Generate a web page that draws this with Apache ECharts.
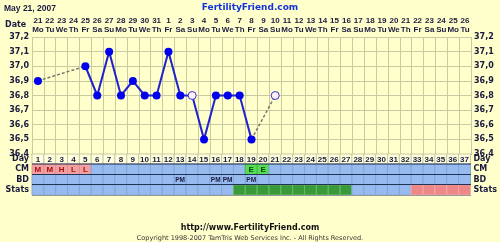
<!DOCTYPE html>
<html><head><meta charset="utf-8">
<script src="https://cdn.jsdelivr.net/npm/echarts@6/dist/echarts.min.js"></script>
<style>html,body{margin:0;padding:0;background:#FFFFCC;}#c{width:500px;height:242px;}</style>
</head><body><div id="c"></div>
<script>
const dayNumbers = ['1','2','3','4','5','6','7','8','9','10','11','12','13','14','15','16','17','18','19','20','21','22','23','24','25','26','27','28','29','30','31','32','33','34','35','36','37'];
const dates = ['21','22','23','24','25','26','27','28','29','30','31','1','2','3','4','5','6','7','8','9','10','11','12','13','14','15','16','17','18','19','20','21','22','23','24','25','26'];
const weekdays = ['Mo','Tu','We','Th','Fr','Sa','Su','Mo','Tu','We','Th','Fr','Sa','Su','Mo','Tu','We','Th','Fr','Sa','Su','Mo','Tu','We','Th','Fr','Sa','Su','Mo','Tu','We','Th','Fr','Sa','Su','Mo','Tu'];
const temps = [36.9,null,null,null,37.0,36.8,37.1,36.8,36.9,36.8,36.8,37.1,36.8,36.8,36.5,36.8,36.8,36.8,36.5,null,36.8,null,null,null,null,null,null,null,null,null,null,null,null,null,null,null,null];
const openDays = [14,21];
const rowNames = ['Day','CM','BD','Stats'];
const cm = ['M','M','H','L','L','','','','','','','','','','','','','','E','E','','','','','','','','','','','','','','','','',''];
const bd = ['','','','','','','','','','','','','PM','','','PM','PM','','PM','','','','','','','','','','','','','','','','','',''];
const stats = ['','','','','','','','','','','','','','','','','','G','G','G','G','G','G','G','G','G','G','','','','','','R','R','R','R','R'];

const FONT = 'DejaVu Sans';
const NFONT = 'Liberation Sans';
const TXT = '#1a1a40';
const fmt = v => (Math.round(v*10)/10).toFixed(1).replace('.', ',');

const dashed = [];
let prev = -1;
temps.forEach((t,i)=>{ if(t!=null){ if(prev>=0 && i-prev>1){ const d = temps.map(()=>null); d[prev]=temps[prev]; d[i]=t; dashed.push(d);} prev=i; } });

const mainData = temps.map((t,i)=>{
  if(t==null) return null;
  if(openDays.indexOf(i+1)>=0) return {value:t, itemStyle:{color:'#FFF0FF', borderColor:'#3333CC', borderWidth:1}};
  return t;
});

const cells = [];
for(let r=0;r<4;r++) for(let i=0;i<dayNumbers.length;i++) cells.push([i,r]);

function renderCell(params, api){
  const i = api.value(0), r = api.value(1);
  const c = api.coord([i, r]);
  const s = api.size([1,1]);
  const x = c[0]-s[0]/2, y = c[1]-s[1]/2, w = s[0], h = s[1];
  let fill = '#97BBEE', stroke = '#82A6DC', text = '', tcol = TXT, fs = 8;
  if(r===0){ fill = '#FFFFDD'; stroke = '#C9C9A2'; text = dayNumbers[i]; }
  else if(r===1){ const v = cm[i]; if(v==='E'){ fill='#55DD55'; stroke='#44BB44'; text=v; tcol='#114411'; } else if(v){ fill='#F0A0A0'; stroke='#E09090'; text=v; tcol='#AA1111'; } }
  else if(r===2){ text = bd[i]; fs = 6.5; }
  else if(r===3){ const v = stats[i]; if(v==='G'){ fill='#3A9A3A'; stroke='#66BB66'; } else if(v==='R'){ fill='#EE8888'; stroke='#F0A8A8'; } }
  const children = [{type:'rect', shape:{x:x, y:y, width:w, height:h}, style:{fill:fill, stroke:stroke, lineWidth:1}}];
  if(text) children.push({type:'text', style:{text:text, x:c[0], y:c[1]+0.5, align:'center', verticalAlign:'middle', fill:tcol, font:'bold '+fs+'px "'+NFONT+'"'}});
  return {type:'group', children:children};
}

const series = [
  {type:'custom', xAxisIndex:2, yAxisIndex:2, data:cells, renderItem:renderCell, silent:true, z:1},
];
dashed.forEach(d=>series.push({type:'line', xAxisIndex:0, yAxisIndex:0, data:d, connectNulls:true, showSymbol:false, lineStyle:{color:'#777777', width:1.5, type:[3,2]}, z:2, animation:false}));
series.push({type:'line', xAxisIndex:0, yAxisIndex:0, data:mainData, connectNulls:false, showAllSymbol:true, symbol:'circle', symbolSize:8,
  itemStyle:{color:'#0000EE'}, lineStyle:{color:'#2222CC', width:2}, z:3, animation:false});

const rowLabel = {interval:0, margin:3, fontFamily:FONT, fontWeight:'bold', fontSize:8, color:TXT};
const chart = echarts.init(document.getElementById('c'), null, {renderer:'canvas'});
chart.setOption({
  animation:false,
  backgroundColor:'#FFFFCC',
  grid:[
    {left:32, right:29, top:37, height:117, show:true, backgroundColor:'#FFFFCC', borderWidth:0},
    {left:32, right:29, top:154, height:41, show:false}
  ],
  xAxis:[
    {type:'category', gridIndex:0, data:dayNumbers, boundaryGap:true, axisLabel:{show:false}, axisTick:{show:false}, axisLine:{show:true, lineStyle:{color:'#223355', width:1}},
     splitLine:{show:true, interval:0, lineStyle:{color:'#C9C9A2', width:1}}},
    {type:'category', gridIndex:0, position:'top', data:dates.map((d,i)=>d+'\n'+weekdays[i]), boundaryGap:true, axisLine:{show:false}, axisTick:{show:false},
     axisLabel:{interval:0, margin:3, fontFamily:NFONT, fontWeight:'bold', fontSize:8, color:TXT, lineHeight:9}},
    {type:'category', gridIndex:1, data:dayNumbers, boundaryGap:true, axisLabel:{show:false}, axisTick:{show:false}, axisLine:{show:false}}
  ],
  yAxis:[
    {type:'value', gridIndex:0, min:36.4, max:37.2, interval:0.1, position:'left', axisLine:{show:false}, axisTick:{show:false},
     splitLine:{show:true, lineStyle:{color:'#C9C9A2', width:1}},
     axisLabel:{formatter:fmt, margin:3, fontFamily:FONT, fontWeight:'bold', fontSize:8, color:TXT}},
    {type:'value', gridIndex:0, min:36.4, max:37.2, interval:0.1, position:'right', axisLine:{show:false}, axisTick:{show:false}, splitLine:{show:false},
     axisLabel:{formatter:fmt, margin:3, fontFamily:FONT, fontWeight:'bold', fontSize:8, color:TXT}},
    {type:'category', gridIndex:1, data:rowNames, inverse:true, position:'left', axisLine:{show:false}, axisTick:{show:false}, axisLabel:rowLabel},
    {type:'category', gridIndex:1, data:rowNames, inverse:true, position:'right', axisLine:{show:false}, axisTick:{show:false}, axisLabel:rowLabel}
  ],
  series:series,
  graphic:[
    {type:'text', left:4, top:4, style:{text:'May 21, 2007', font:'bold 8.5px "'+NFONT+'"', fill:TXT}},
    {type:'text', left:'center', top:3, style:{text:'FertilityFriend.com', font:'bold 9px "'+FONT+'"', fill:'#1133DD'}},
    {type:'text', left:5, top:21, style:{text:'Date', font:'bold 8px "'+FONT+'"', fill:TXT}},
    {type:'line', shape:{x1:32, y1:164, x2:471, y2:164}, style:{stroke:'#223355', lineWidth:1}, z:10},
    {type:'line', shape:{x1:32, y1:174.5, x2:471, y2:174.5}, style:{stroke:'#223355', lineWidth:1}, z:10},
    {type:'line', shape:{x1:32, y1:184.5, x2:471, y2:184.5}, style:{stroke:'#223355', lineWidth:1}, z:10},
    {type:'line', shape:{x1:32, y1:195.5, x2:471, y2:195.5}, style:{stroke:'#999999', lineWidth:1}, z:10},
    {type:'text', left:'center', top:224, style:{text:'http://www.FertilityFriend.com', font:'bold 8px "'+FONT+'"', fill:'#111111'}},
    {type:'text', left:'center', top:235, style:{text:'Copyright 1998-2007 TamTris Web Services Inc. - All Rights Reserved.', font:'6.5px "'+FONT+'"', fill:'#333333'}}
  ]
});
</script></body></html>
